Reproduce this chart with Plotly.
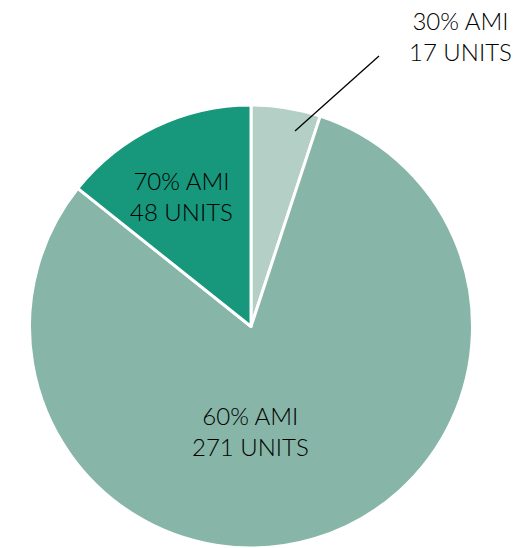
import plotly.graph_objects as go

categories = ["30% AMI", "60% AMI", "70% AMI"]
units = [17, 271, 48]
colors = ["#b4cfc5", "#87b5a7", "#17977b"]

W, H = 528, 548

def px(x):
    return x / W

def py(y):
    return 1 - y / H

fig = go.Figure()
fig.add_trace(go.Pie(
    labels=categories,
    values=units,
    sort=False,
    direction="clockwise",
    rotation=0,
    marker=dict(colors=colors, line=dict(color="white", width=3)),
    textinfo="none",
    hoverinfo="label+value",
    showlegend=False,
    domain=dict(x=[px(28), px(474)], y=[0, py(105)]),
))

font = dict(family="Lato, 'Open Sans', sans-serif", size=24, color="#000000", weight=300)
labels = [f"{c}<br>{u} UNITS" for c, u in zip(categories, units)]

# outside label for 30% AMI with leader line
fig.add_shape(type="line", xref="paper", yref="paper",
              x0=px(295), y0=py(131), x1=px(379), y1=py(56),
              line=dict(color="black", width=1.3))
fig.add_annotation(text=labels[0], xref="paper", yref="paper",
                   x=px(514), y=py(36), xanchor="right", yanchor="middle",
                   showarrow=False, align="center", font=font)
fig.add_annotation(text=labels[1], xref="paper", yref="paper",
                   x=px(250), y=py(431), xanchor="center", yanchor="middle",
                   showarrow=False, align="center", font=font)
fig.add_annotation(text=labels[2], xref="paper", yref="paper",
                   x=px(181), y=py(196), xanchor="center", yanchor="middle",
                   showarrow=False, align="center", font=font)

fig.update_layout(
    width=W, height=H,
    margin=dict(l=0, r=0, t=0, b=0),
    paper_bgcolor="white",
    plot_bgcolor="white",
)

fig.write_html("out.html", config={"displayModeBar": False},
               post_script="document.body.style.margin='0px';")
